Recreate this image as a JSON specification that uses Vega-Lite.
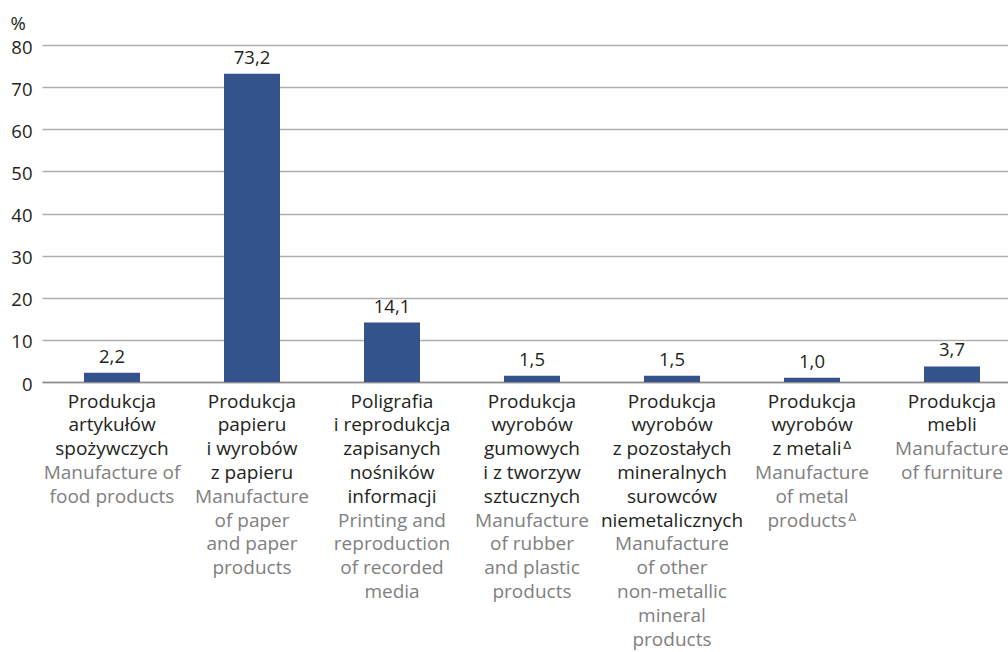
{
  "$schema": "https://vega.github.io/schema/vega-lite/v6.json",
  "width": 980,
  "height": 337,
  "autosize": {"type": "none"},
  "padding": {"left": 42, "top": 45, "right": 0, "bottom": 270},
  "background": "white",
  "config": {
    "view": {"stroke": null},
    "font": "Open Sans",
    "locale": {"number": {"decimal": ",", "thousands": " ", "grouping": [3], "currency": ["", " zł"]}}
  },
  "data": {
    "values": [
      {"pl": "Produkcja|artykułów|spożywczych", "en": "\u2800|\u2800|\u2800|Manufacture of|food products", "v": 2.2},
      {"pl": "Produkcja|papieru|i wyrobów|z papieru", "en": "\u2800|\u2800|\u2800|\u2800|Manufacture|of paper|and paper|products", "v": 73.2},
      {"pl": "Poligrafia|i reprodukcja|zapisanych|nośników|informacji", "en": "\u2800|\u2800|\u2800|\u2800|\u2800|Printing and|reproduction|of recorded|media", "v": 14.1},
      {"pl": "Produkcja|wyrobów|gumowych|i z tworzyw|sztucznych", "en": "\u2800|\u2800|\u2800|\u2800|\u2800|Manufacture|of rubber|and plastic|products", "v": 1.5},
      {"pl": "Produkcja|wyrobów|z pozostałych|mineralnych|surowców|niemetalicznych", "en": "\u2800|\u2800|\u2800|\u2800|\u2800|\u2800|Manufacture|of other|non-metallic|mineral|products", "v": 1.5},
      {"pl": "Produkcja|wyrobów|z metaliᐞ", "en": "\u2800|\u2800|\u2800|Manufacture|of metal|productsᐞ", "v": 1.0},
      {"pl": "Produkcja|mebli", "en": "\u2800|\u2800|Manufacture|of furniture", "v": 3.7}
    ]
  },
  "layer": [
    {
      "layer": [
        {
          "mark": {"type": "bar", "color": "#34538C"},
          "encoding": {
            "x": {
              "field": "pl", "type": "nominal", "sort": null,
              "scale": {"paddingInner": 0.6, "paddingOuter": 0.3},
              "axis": {
                "title": null, "orient": "bottom", "labelAngle": 0, "labelOverlap": false,
                "labelExpr": "split(datum.value, '|')", "labelFontSize": 19, "labelLineHeight": 23.8,
                "labelColor": "#231F20", "labelPadding": 10, "labelLimit": 300, "labelBound": false,
                "ticks": false, "domain": true, "domainColor": "#8A8A8A", "domainWidth": 1.5, "grid": false
              }
            },
            "y": {
              "field": "v", "type": "quantitative",
              "scale": {"domain": [0, 80], "nice": false},
              "axis": {
                "title": "%", "titleAngle": 0, "titleAlign": "left", "titleBaseline": "bottom",
                "titleX": -32, "titleY": -12, "titleFontSize": 18.5, "titleFontWeight": "normal", "titleColor": "#231F20",
                "values": [0, 10, 20, 30, 40, 50, 60, 70, 80],
                "labelFontSize": 18.5, "labelColor": "#231F20", "labelPadding": 10, "labelOffset": 2,
                "ticks": false, "domain": false,
                "grid": true, "gridColor": "#AFAFAF", "gridWidth": 1.5
              }
            }
          }
        },
        {
          "mark": {"type": "text", "fontSize": 18.5, "color": "#231F20", "baseline": "bottom", "dy": -6},
          "encoding": {
            "x": {"field": "pl", "type": "nominal", "sort": null},
            "y": {"field": "v", "type": "quantitative"},
            "text": {"field": "v", "type": "quantitative", "format": ".1f"}
          }
        }
      ]
    },
    {
      "mark": {"type": "bar", "opacity": 0},
      "encoding": {
        "x": {
          "field": "en", "type": "nominal", "sort": null,
          "scale": {"paddingInner": 0.6, "paddingOuter": 0.3},
          "axis": {
            "title": null, "orient": "bottom", "labelAngle": 0, "labelOverlap": false,
            "labelExpr": "split(datum.value, '|')", "labelFontSize": 19, "labelLineHeight": 23.8,
            "labelColor": "#808080", "labelPadding": 10, "labelLimit": 300, "labelBound": false,
            "ticks": false, "domain": false, "grid": false
          }
        },
        "y": {"field": "v", "type": "quantitative"}
      }
    }
  ],
  "resolve": {"scale": {"x": "independent"}, "axis": {"x": "independent"}}
}
